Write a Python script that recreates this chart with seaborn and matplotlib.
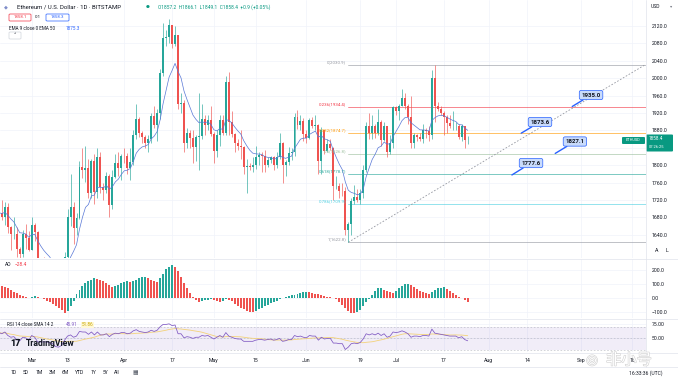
import numpy as np
import pandas as pd
import matplotlib
matplotlib.use('Agg')
import matplotlib.pyplot as plt
import matplotlib.patches as mpatches
import matplotlib.patheffects as pe
import seaborn as sns

# daily ETH/USD candles (Feb 18 .. Jul 25)
dates = pd.date_range('2023-02-18', '2023-07-25', freq='D')
first_open = 1694.0
closes = [1691, 1680, 1703, 1659, 1642, 1643, 1607, 1595, 1641, 1633, 1605,
          1663, 1646, 1568, 1567, 1564, 1565, 1561, 1534, 1437, 1429, 1468, 1590, 1682, 1703, 1655, 1678,
          1796, 1790, 1794, 1737, 1809, 1738, 1820, 1750, 1743, 1776, 1709, 1774, 1806, 1793, 1822,
          1821, 1794, 1808, 1870, 1906, 1873, 1864, 1852, 1861, 1912, 1892, 1920, 2011, 2093, 2095,
          2122, 2079, 2100, 1940, 1942, 1850, 1873, 1863, 1842, 1866, 1868, 1907, 1892, 1905, 1871,
          1832, 1869, 1905, 1875, 1992, 1900, 1872, 1850, 1845, 1842, 1795, 1798, 1795, 1800, 1820,
          1823, 1822, 1800, 1811, 1818, 1800, 1818, 1852, 1800, 1807, 1828, 1831, 1910, 1892, 1902, 1872,
          1862, 1905, 1891, 1893, 1810, 1880, 1832, 1849, 1840, 1752, 1752, 1741, 1740, 1650, 1665,
          1717, 1727, 1720, 1737, 1790, 1890, 1874, 1890, 1874, 1900, 1859, 1890, 1830, 1852, 1933,
          1924, 1937, 1955, 1937, 1910, 1850, 1870, 1865, 1860, 1880, 1878, 1870, 2000, 1935, 1930,
          1920, 1910, 1897, 1890, 1890, 1891, 1865, 1890, 1857, 1858.4]
highs = [1723, 1719, 1716, 1714, 1660, 1681, 1658, 1611, 1650, 1666, 1648,
         1680, 1667, 1648, 1577, 1588, 1579, 1583, 1568, 1546, 1440, 1490, 1600, 1700, 1780, 1715, 1690,
         1810, 1840, 1845, 1814, 1815, 1825, 1840, 1830, 1760, 1785, 1780, 1790, 1825, 1830, 1826,
         1840, 1827, 1840, 1880, 1940, 1910, 1878, 1870, 1870, 1920, 1935, 1930, 2022, 2127, 2110,
         2136, 2122, 2120, 2100, 1965, 1950, 1885, 1880, 1880, 1870, 1965, 1940, 1915, 1915, 1935,
         1876, 1880, 1915, 1915, 2005, 2015, 1925, 1875, 1860, 1880, 1845, 1815, 1805, 1820, 1845,
         1830, 1830, 1835, 1818, 1822, 1822, 1830, 1873, 1853, 1812, 1842, 1840, 1920, 1927, 1915, 1908,
         1880, 1908, 1910, 1915, 1895, 1888, 1880, 1860, 1860, 1842, 1775, 1760, 1760, 1750, 1670,
         1725, 1755, 1745, 1745, 1800, 1900, 1920, 1915, 1895, 1930, 1905, 1900, 1890, 1870, 1935,
         1935, 1941, 1975, 1965, 1940, 1958, 1875, 1872, 1875, 1895, 1885, 1890, 2020, 2030.9, 1945,
         1935, 1925, 1915, 1915, 1925, 1900, 1895, 1895, 1890, 1866.1]
lows = [1680, 1673, 1662, 1644, 1604, 1630, 1590, 1575, 1590, 1608, 1603,
        1604, 1626, 1543, 1550, 1561, 1555, 1540, 1532, 1412, 1370, 1380, 1460, 1570, 1660, 1620, 1640,
        1676, 1770, 1762, 1725, 1725, 1710, 1725, 1735, 1720, 1735, 1680, 1700, 1770, 1775, 1765,
        1805, 1780, 1765, 1800, 1860, 1865, 1850, 1840, 1830, 1850, 1885, 1855, 1907, 2005, 2073,
        2080, 2070, 2075, 1930, 1920, 1830, 1840, 1840, 1805, 1810, 1790, 1860, 1870, 1882, 1868,
        1805, 1820, 1845, 1870, 1870, 1870, 1865, 1830, 1835, 1815, 1780, 1737, 1790, 1785, 1792,
        1800, 1785, 1785, 1795, 1804, 1790, 1794, 1815, 1760, 1775, 1800, 1812, 1822, 1883, 1882, 1855,
        1850, 1860, 1885, 1880, 1780, 1780, 1825, 1830, 1835, 1720, 1745, 1725, 1730, 1640, 1622.8,
        1640, 1710, 1715, 1710, 1725, 1785, 1860, 1860, 1862, 1870, 1845, 1855, 1820, 1825, 1840,
        1915, 1905, 1935, 1930, 1895, 1840, 1840, 1855, 1855, 1850, 1862, 1855, 1860, 1900, 1925,
        1915, 1870, 1875, 1885, 1880, 1880, 1860, 1855, 1840, 1849.1]

ao_values = [95, 88, 80, 72, 60, 45, 33, 22, 12, 5, 2,
             8, 14, 10, 2, -8, -18, -30, -42, -55, -70, -88, -108, -95, -60, -20, 25,
             55, 85, 105, 118, 130, 140, 135, 128, 118, 105, 92, 80, 85, 95, 105,
             115, 124, 112, 118, 130, 140, 148, 152, 140, 130, 122, 117, 140, 175, 205,
             222, 235, 225, 190, 150, 110, 70, 35, 5, -15, -26, -22, -16, -12, -10,
             -15, -22, -26, -18, -10, -14, -25, -40, -55, -70, -82, -90, -98, -100, -95,
             -82, -70, -58, -48, -38, -28, -18, -8, -2, 5, 12, 18, 24, 30, 35, 40,
             42, 40, 34, 30, 26, 20, 15, 10, 5, 0, -10, -28, -50, -72, -92,
             -108, -110, -100, -85, -60, -30, -5, 20, 50, 68, 70, 58, 48, 40, 34,
             50, 70, 85, 97, 102, 90, 75, 62, 50, 42, 36, 32, 45, 58, 68,
             74, 76, 62, 48, 35, 22, 10, 0, -15, -28.4]

rsi_values = [60, 58, 61, 55, 52, 53, 48, 46, 52, 51, 47,
              55, 52, 44, 44, 44, 44, 43, 41, 36, 35, 38, 47, 54, 56, 52, 54,
              62, 61, 61, 57, 61, 56, 61, 56, 56, 58, 53, 57, 59, 58, 60,
              60, 58, 59, 63, 65, 62, 61, 60, 61, 64, 62, 64, 70, 74, 74,
              75, 72, 73, 58, 58, 51, 53, 52, 50, 52, 52, 55, 54, 55, 52,
              49, 52, 55, 52, 60, 54, 52, 50, 49, 49, 45, 45, 45, 45, 47,
              48, 48, 47, 48, 49, 47, 48, 50, 45, 46, 48, 48, 55, 53, 54, 52,
              51, 55, 54, 54, 47, 52, 49, 50, 50, 42, 42, 41, 41, 31, 35,
              41, 42, 41, 43, 49, 58, 56, 58, 56, 59, 55, 58, 52, 54, 61,
              60, 61, 63, 61, 58, 52, 54, 54, 53, 55, 55, 54, 66, 59, 58,
              57, 56, 55, 54, 54, 54, 51, 53, 48, 45.91]

fib_levels = [0, 0.236, 0.382, 0.5, 0.618, 0.786, 1]
fib_prices = [2030.9, 1934.4, 1874.7, 1826.8, 1778.7, 1709.9, 1622.8]
fib_colors = ['#9598a1', '#f23645', '#ff9800', '#9bbf9d', '#26a69a', '#4dd0e1', '#9598a1']
callout_prices = [1935.0, 1873.6, 1827.1, 1777.6]

price_ticks = [1640, 1680, 1720, 1760, 1800, 1840, 1880, 1920, 1960, 2000, 2040, 2080, 2120]
hidden_price_ticks = [1840]  # covered by the last-price tag
ao_ticks = [-100, 0, 100, 200]
rsi_ticks = [50, 75]
time_tick_dates = ['2023-03-01', '2023-03-13', '2023-04-01', '2023-04-17', '2023-05-01', '2023-05-15',
                   '2023-06-01', '2023-06-19', '2023-07-01', '2023-07-17', '2023-08-01', '2023-08-14',
                   '2023-09-01', '2023-09-18']
time_labels = ['Mar', '13', 'Apr', '17', 'May', '15', 'Jun', '19', 'Jul', '17', 'Aug', '14', 'Sep', '18']

UP, DOWN = '#26a69a', '#ef5350'
W, H = 678, 378

sns.set_theme(style='white')
plt.rcParams['font.family'] = ['Roboto', 'DejaVu Sans']
plt.rcParams['axes.unicode_minus'] = True

base = pd.Timestamp('2023-03-01')
d = np.array((dates - base).days, dtype=float)
tick_d = [(pd.Timestamp(t) - base).days for t in time_tick_dates]
opens = [first_open] + closes[:-1]
df = pd.DataFrame({'d': d, 'open': opens, 'high': highs, 'low': lows, 'close': closes,
                   'ao': ao_values, 'rsi': rsi_values})
df['ema9'] = df['close'].ewm(span=9, adjust=False).mean()
df['rsi_sma'] = df['rsi'].rolling(14, min_periods=1).mean()
df['up'] = df['close'] >= df['open']
df['ao_up'] = df['ao'].diff().fillna(0) >= 0

XLIM = (-10.62, 205.7)


def rect(x0, y0, x1, y1):
    return [x0 / W, 1 - y1 / H, (x1 - x0) / W, (y1 - y0) / H]


def ftext(x, y, s, **kw):
    kw.setdefault('va', 'center')
    kw.setdefault('fontsize', 3.6)
    kw.setdefault('color', '#131722')
    return fig.text(x / W, 1 - y / H, s, **kw)


def fbox(x0, y0, x1, y1, fc, ec='none', lw=0.5):
    fig.patches.append(mpatches.FancyBboxPatch((x0 / W, 1 - y1 / H), (x1 - x0) / W, (y1 - y0) / H,
                                               boxstyle='round,pad=0,rounding_size=0.002',
                                               transform=fig.transFigure, fc=fc, ec=ec, lw=lw))


fig = plt.figure(figsize=(W / 100, H / 100), dpi=100)
fig.patch.set_facecolor('white')
ax = fig.add_axes(rect(0, 0, 646, 258))
ax_ao = fig.add_axes(rect(0, 259, 646, 318), sharex=ax)
ax_rsi = fig.add_axes(rect(0, 319, 646, 352), sharex=ax)

for a in (ax, ax_ao, ax_rsi):
    a.set_facecolor('white')
    for s in a.spines.values():
        s.set_visible(False)
    a.yaxis.tick_right()
    a.set_xticks(tick_d)
    a.grid(True, color='#f0f3fa', lw=0.5)
    a.set_axisbelow(True)
    a.tick_params(axis='both', length=0, labelsize=3.7, labelcolor='#131722', pad=4)
    a.tick_params(axis='x', labelbottom=False)

# --- candles ---
ax.set_ylim(1586.7, 2179.8)
cols = np.where(df['up'], UP, DOWN)
ax.vlines(df['d'], df['low'], df['high'], colors=cols, lw=0.45, zorder=3)
body_lo = np.minimum(df['open'], df['close'])
body_h = np.maximum(np.abs(df['close'] - df['open']), 1.0)
ax.bar(df['d'], body_h, bottom=body_lo, width=0.66, color=cols, lw=0, zorder=4)
sns.lineplot(data=df, x='d', y='ema9', ax=ax, color='#5877d6', lw=0.5, zorder=5, legend=False)
ax.set_yticks(price_ticks)
ax.set_yticklabels(['' if p in hidden_price_ticks else f'{p:.1f}' for p in price_ticks])
ax.set_xlabel('')
ax.set_ylabel('')

# fib retracement
fib_start = 106
for lvl, p, c in zip(fib_levels, fib_prices, fib_colors):
    ax.plot([fib_start, XLIM[1]], [p, p], color=c, lw=0.6, alpha=0.7, zorder=2)
    ax.text(fib_start - 0.7, p + 2, f'{lvl:g}({p:.1f})', ha='right', va='bottom',
            fontsize=3.2, color=c, zorder=6)
ax.plot([fib_start, 205.4], [fib_prices[-1], fib_prices[0]], color='#9598a1', lw=0.6,
        ls=(0, (2, 2)), zorder=2)

# callouts: (tip day, box centre day, box centre price)
callout_pos = [(181.0, 187.3, 1961.4), (163.9, 170.2, 1899.3), (175.3, 181.9, 1854.5), (160.8, 167.2, 1805.0)]
for p, (tx, bx, by) in zip(callout_prices, callout_pos):
    ax.annotate(f'{p:.1f}', xy=(tx, p), xytext=(bx, by), ha='center', va='center',
                fontsize=4.4, fontweight='bold', color='#131722', zorder=8,
                bbox=dict(boxstyle='round,pad=0.35,rounding_size=0.3', fc='#c9dbfb', ec='#2962ff', lw=0.5),
                arrowprops=dict(arrowstyle='-', color='#2962ff', lw=1.0, shrinkA=0, shrinkB=0))

# --- AO ---
ax_ao.set_ylim(-142.9, 278.6)
ax_ao.bar(df['d'], df['ao'], width=0.66, color=np.where(df['ao_up'], UP, DOWN), lw=0)
ax_ao.set_yticks(ao_ticks)
ax_ao.set_yticklabels(['\u2212100.0', '0.0', '100.0', '200.0'])

# --- RSI ---
ax_rsi.set_ylim(26.7, 83.3)
ax_rsi.axhspan(30, 70, color='#7e57c2', alpha=0.1, lw=0)
for lv in (70, 50, 30):
    ax_rsi.axhline(lv, color='#b2b5be', lw=0.4, ls=(0, (3, 3)))
sns.lineplot(data=df, x='d', y='rsi_sma', ax=ax_rsi, color='#f3d27a', lw=0.6, legend=False)
sns.lineplot(data=df, x='d', y='rsi', ax=ax_rsi, color='#7e57c2', lw=0.55, legend=False)
ax_rsi.set_yticks(rsi_ticks)
ax_rsi.set_yticklabels(['50.00', '75.00'])
ax_rsi.set_xlabel('')
ax_rsi.set_ylabel('')
ax_rsi.tick_params(axis='x', labelbottom=True, pad=4.5)
ax_rsi.set_xticklabels(time_labels)
ax.set_xlim(*XLIM)

# separators
for y in (258.5, 318.5, 352.5, 366.5):
    fig.add_artist(plt.Line2D([0, 1], [1 - y / H] * 2, color='#e0e3eb', lw=0.5))
fig.add_artist(plt.Line2D([646 / W] * 2, [1 - 366.5 / H, 1], color='#e0e3eb', lw=0.5))

# header
ftext(4, 7, '\u25c6', fontsize=3.6, color='#7f8dc9')
ftext(17, 7, 'Ethereum / U.S. Dollar \u00b7 1D \u00b7 BITSTAMP', fontsize=4.3)
ftext(146, 7, '\u25cf', fontsize=3.2, color='#089981')
ftext(158, 7, 'O1857.2  H1866.1  L1849.1  C1858.4  +0.9 (+0.05%)', fontsize=3.5, color='#089981')
fbox(9, 14, 31, 21, 'white', '#f23645')
ftext(20, 17.5, '1858.1', fontsize=3.2, color='#f23645', ha='center')
ftext(35, 17.5, '0.1', fontsize=3.2)
fbox(46, 14, 69, 21, 'white', '#2962ff')
ftext(57.5, 17.5, '1858.3', fontsize=3.2, color='#2962ff', ha='center')
ftext(9, 28, 'EMA 9 close 0 EMA 50', fontsize=3.3)
ftext(66, 28, '1875.3', fontsize=3.3, color='#2962ff')
fbox(9, 32, 21, 39, 'white', '#d1d4dc')
ftext(15, 35.8, '\u02c4', fontsize=3.5, ha='center')

# right axis bits
ftext(651, 6, 'USD', fontsize=3.6)
ftext(670, 6, '\u25be', fontsize=3.2, color='#787b86')
ftext(655, 251, 'A', fontsize=3.8)
ftext(666, 251, 'L', fontsize=3.8)
fbox(622, 137, 645, 144, '#089981')
ftext(633.5, 140.5, 'ETHUSD', fontsize=2.8, color='white', ha='center')
fbox(646, 134.5, 673, 151.5, '#089981')
ftext(649, 139, '1858.4', fontsize=3.3, color='white')
ftext(649, 147.3, '07:26:25', fontsize=2.9, color='white')

# pane labels
ftext(5, 265, 'AO', fontsize=3.5)
ftext(15, 265, '\u221228.4', fontsize=3.5, color='#f23645')
ftext(7, 325, 'RSI 14 close SMA 14 2', fontsize=3.3)
ftext(66, 325, '45.91', fontsize=3.3, color='#7e57c2')
ftext(82, 325, '51.86', fontsize=3.3, color='#c8a600',
      bbox=dict(boxstyle='square,pad=0.15', fc='#fff8d6', ec='none'))
ftext(10, 344, '17', fontsize=6.5, fontweight='heavy')
ftext(26, 344, 'TradingView', fontsize=6.2, fontweight='bold')

# bottom bar
for x, s in zip([11, 23, 36, 49, 62, 75, 91, 103, 114],
                ['1D', '5D', '1M', '3M', '6M', 'YTD', '1Y', '5Y', 'All']):
    ftext(x, 373, s, fontsize=3.6)
ftext(132, 373, '\u25a6', fontsize=4.2, color='#555a66')
ftext(629, 373, '16:33:36 (UTC)', fontsize=3.6)

# watermark
ftext(586, 360, '\u25ce', fontsize=10, color='white',
      path_effects=[pe.withStroke(linewidth=0.8, foreground='#d0d0d0')])
ftext(606, 360, '非小号', fontsize=11, color='white', family=['Noto Sans CJK SC', 'DejaVu Sans'],
      path_effects=[pe.withStroke(linewidth=0.8, foreground='#d0d0d0')])

fig.savefig('out.png', dpi=100)
